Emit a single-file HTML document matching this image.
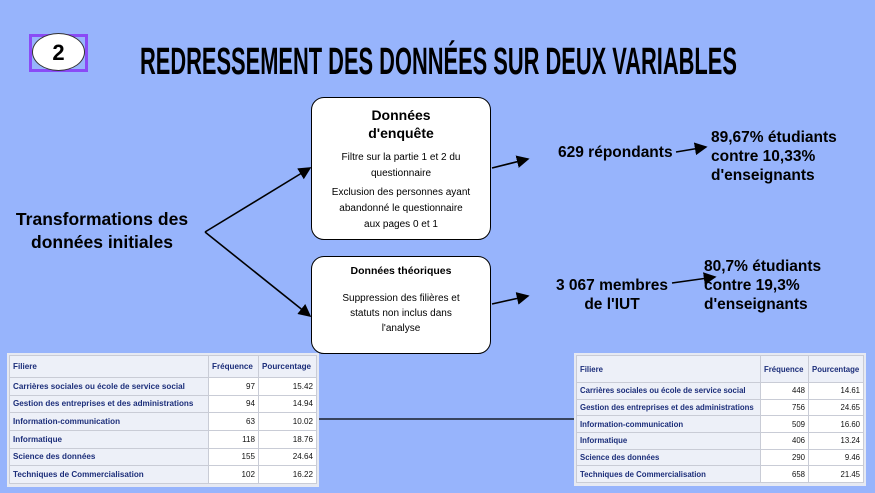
<!DOCTYPE html>
<html><head><meta charset="utf-8"><style>
*{margin:0;padding:0;box-sizing:border-box}
body{width:875px;height:493px;background:#97b4fc;position:relative;overflow:hidden;font-family:"Liberation Sans",sans-serif;color:#000}
.abs{position:absolute}
.title{left:140px;top:40px;font-size:38px;font-weight:bold;transform:scaleX(0.575);transform-origin:left top;white-space:nowrap;line-height:44px}
.box{background:#fff;border:1.5px solid #000;border-radius:13px;text-align:center}
.big{font-weight:bold;font-size:15.5px;line-height:19px;white-space:nowrap}
table{border-collapse:collapse;background:#fff;font-size:8.1px;font-family:"Liberation Sans",sans-serif;table-layout:fixed}
td,th{border:1px solid #c9ccd6;padding:0 3px;white-space:nowrap;overflow:hidden}
th{background:#edf0f8;color:#1c2e7a;text-align:left;font-weight:bold}
td.l{background:#edf0f8;color:#1c2e7a;font-weight:bold}
td.n{text-align:right;color:#111}
.tw{background:#e6e9f2;padding:2px 2px 3px 2px}
</style></head><body>
<div class="abs" style="left:29px;top:34px;width:59px;height:38px;border:3px solid #8a4bf6"></div>
<div class="abs" style="left:32px;top:33px;width:53px;height:38px;border-radius:50%;background:#fff;border:1px solid #333;font-weight:bold;font-size:22px;text-align:center;line-height:38px">2</div>
<div class="abs title">REDRESSEMENT DES DONNÉES SUR DEUX VARIABLES</div>

<div class="abs big" style="left:4px;top:208px;width:196px;text-align:center;font-size:17.5px;line-height:23px">Transformations des<br>données initiales</div>

<div class="abs box" style="left:311px;top:97px;width:180px;height:143px">
<div style="font-size:14px;font-weight:bold;line-height:18px;margin-top:8px">Données<br>d'enquête</div>
<div style="font-size:10px;line-height:16px;margin-top:8px">Filtre sur la partie 1 et 2 du<br>questionnaire</div>
<div style="font-size:10px;line-height:16px;margin-top:3px">Exclusion des personnes ayant<br>abandonné le questionnaire<br>aux pages 0 et 1</div>
</div>
<div class="abs box" style="left:311px;top:256px;width:180px;height:98px">
<div style="font-size:10.5px;font-weight:bold;margin-top:8px">Données théoriques</div>
<div style="font-size:10px;line-height:15px;margin-top:14px">Suppression des filières et<br>statuts non inclus dans<br>l'analyse</div>
</div>

<div class="abs big" style="left:558px;top:143px">629 répondants</div>
<div class="abs big" style="left:711px;top:128px">89,67% étudiants<br>contre 10,33%<br>d'enseignants</div>
<div class="abs big" style="left:550px;top:276px;width:124px;text-align:center">3 067 membres<br>de l'IUT</div>
<div class="abs big" style="left:704px;top:257px">80,7% étudiants<br>contre 19,3%<br>d'enseignants</div>

<svg class="abs" style="left:0;top:0" width="875" height="493">
<defs><marker id="a" markerWidth="8" markerHeight="8" refX="7" refY="4" orient="auto"><path d="M0,0 L8,4 L0,8 z" fill="#000"/></marker></defs>
<g stroke="#000" stroke-width="1.6" fill="none">
<line x1="205" y1="232" x2="310" y2="168" marker-end="url(#a)"/>
<line x1="205" y1="232" x2="310" y2="316" marker-end="url(#a)"/>
<line x1="492" y1="168" x2="528" y2="159" marker-end="url(#a)"/>
<line x1="676" y1="152" x2="706" y2="147" marker-end="url(#a)"/>
<line x1="492" y1="304" x2="528" y2="296" marker-end="url(#a)"/>
<line x1="672" y1="283" x2="715" y2="277" marker-end="url(#a)"/>
<line x1="318" y1="419" x2="576" y2="419" stroke-width="1.2"/>
</g></svg>

<div class="abs tw" style="left:7px;top:353px;width:312px;height:134px">
<table style="width:307px;height:129px">
<colgroup><col style="width:199px"><col style="width:50px"><col style="width:58px"></colgroup>
<tr style="height:22px"><th>Filiere</th><th>Fréquence</th><th>Pourcentage</th></tr>
<tr><td class="l">Carrières sociales ou école de service social</td><td class="n">97</td><td class="n">15.42</td></tr>
<tr><td class="l">Gestion des entreprises et des administrations</td><td class="n">94</td><td class="n">14.94</td></tr>
<tr><td class="l">Information-communication</td><td class="n">63</td><td class="n">10.02</td></tr>
<tr><td class="l">Informatique</td><td class="n">118</td><td class="n">18.76</td></tr>
<tr><td class="l">Science des données</td><td class="n">155</td><td class="n">24.64</td></tr>
<tr><td class="l">Techniques de Commercialisation</td><td class="n">102</td><td class="n">16.22</td></tr>
</table></div>

<div class="abs tw" style="left:574px;top:353px;width:292px;height:133px">
<table style="width:287px;height:128px;font-size:7.8px">
<colgroup><col style="width:184px"><col style="width:48px"><col style="width:55px"></colgroup>
<tr style="height:27px"><th>Filiere</th><th>Fréquence</th><th>Pourcentage</th></tr>
<tr><td class="l">Carrières sociales ou école de service social</td><td class="n">448</td><td class="n">14.61</td></tr>
<tr><td class="l">Gestion des entreprises et des administrations</td><td class="n">756</td><td class="n">24.65</td></tr>
<tr><td class="l">Information-communication</td><td class="n">509</td><td class="n">16.60</td></tr>
<tr><td class="l">Informatique</td><td class="n">406</td><td class="n">13.24</td></tr>
<tr><td class="l">Science des données</td><td class="n">290</td><td class="n">9.46</td></tr>
<tr><td class="l">Techniques de Commercialisation</td><td class="n">658</td><td class="n">21.45</td></tr>
</table></div>
</body></html>
